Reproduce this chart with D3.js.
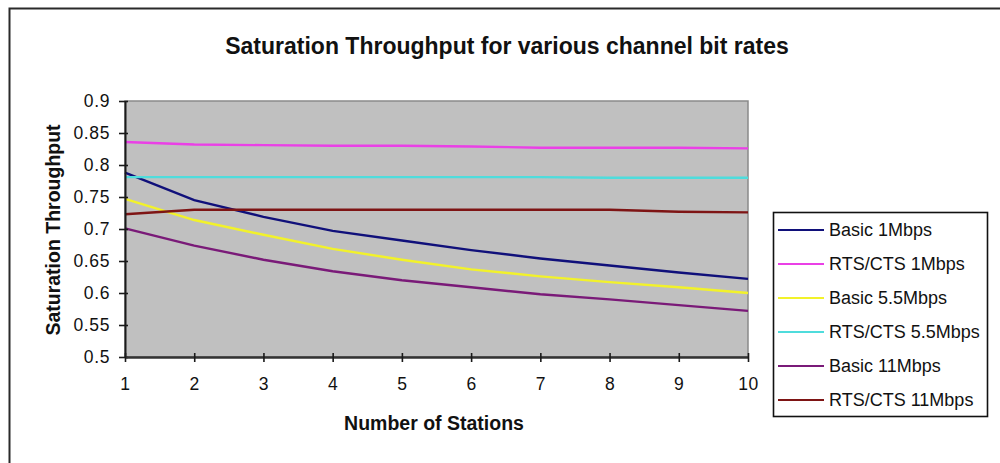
<!DOCTYPE html>
<html>
<head>
<meta charset="utf-8">
<script src="https://cdn.jsdelivr.net/npm/d3@7"></script>
<style>
  html, body { margin: 0; padding: 0; background: #ffffff; }
  svg { display: block; font-family: Arial, "Liberation Sans", sans-serif; }
</style>
</head>
<body>
<svg id="chart" width="1000" height="463"></svg>
<script>
// Number of stations on the x axis
const stations = [1, 2, 3, 4, 5, 6, 7, 8, 9, 10];
const yTicks = [0.5, 0.55, 0.6, 0.65, 0.7, 0.75, 0.8, 0.85, 0.9];

// Saturation throughput per access mode and channel bit rate
const basic1    = [0.788, 0.745, 0.719, 0.697, 0.682, 0.667, 0.654, 0.643, 0.632, 0.622];
const rtscts1   = [0.836, 0.832, 0.831, 0.830, 0.830, 0.829, 0.827, 0.827, 0.827, 0.826];
const basic55   = [0.747, 0.714, 0.691, 0.669, 0.652, 0.637, 0.626, 0.617, 0.609, 0.600];
const rtscts55  = [0.781, 0.781, 0.781, 0.781, 0.781, 0.781, 0.781, 0.780, 0.780, 0.780];
const basic11   = [0.701, 0.674, 0.652, 0.634, 0.620, 0.609, 0.598, 0.590, 0.581, 0.572];
const rtscts11  = [0.723, 0.730, 0.730, 0.730, 0.730, 0.730, 0.730, 0.730, 0.727, 0.726];

const seriesNames = ["Basic 1Mbps", "RTS/CTS 1Mbps", "Basic 5.5Mbps", "RTS/CTS 5.5Mbps", "Basic 11Mbps", "RTS/CTS 11Mbps"];
const seriesValues = [basic1, rtscts1, basic55, rtscts55, basic11, rtscts11];
const seriesColors = ["#10107a", "#ea40e6", "#f2f22a", "#4fdcdc", "#7a1a78", "#7e1414"];

const svg = d3.select("#chart");

// Outer chart frame
svg.append("path")
  .attr("d", "M9.5,470 V8.5 H1005")
  .attr("fill", "none")
  .attr("stroke", "#2a2a2a")
  .attr("stroke-width", 2);

const plot = { left: 125, right: 748, top: 101, bottom: 357 };

const x = d3.scaleLinear().domain([1, 10]).range([plot.left, plot.right]);
const y = d3.scaleLinear().domain([0.5, 0.9]).range([plot.bottom, plot.top]);

// Plot area
svg.append("rect")
  .attr("x", plot.left).attr("y", plot.top)
  .attr("width", plot.right - plot.left).attr("height", plot.bottom - plot.top)
  .attr("fill", "#c0c0c0")
  .attr("stroke", "#8a8a8a")
  .attr("stroke-width", 1.5);

// Series lines
const line = d3.line()
  .x((d, i) => x(stations[i]))
  .y(d => y(d));

seriesValues.forEach((vals, k) => {
  svg.append("path")
    .datum(vals)
    .attr("d", line)
    .attr("fill", "none")
    .attr("stroke", seriesColors[k])
    .attr("stroke-width", 2.4);
});

// Y axis
const yAxis = d3.axisLeft(y)
  .tickValues(yTicks)
  .tickFormat(d => String(+d.toFixed(2)))
  .tickSizeInner(6).tickSizeOuter(0).tickPadding(9);
const gy = svg.append("g").attr("transform", `translate(${plot.left},0)`).call(yAxis);
gy.select(".domain").attr("stroke", "#1a1a1a").attr("stroke-width", 2);
gy.selectAll(".tick line").attr("x2", -6).attr("x1", 3).attr("stroke", "#1a1a1a").attr("stroke-width", 1.6);
gy.selectAll(".tick text").attr("font-size", 17.5).attr("fill", "#111").attr("letter-spacing", 0.6);

// X axis
const xAxis = d3.axisBottom(x)
  .tickValues(stations)
  .tickFormat(d3.format("d"))
  .tickSizeInner(5).tickSizeOuter(0).tickPadding(16);
const gx = svg.append("g").attr("transform", `translate(0,${plot.bottom})`).call(xAxis);
gx.select(".domain").attr("stroke", "#333").attr("stroke-width", 2.4);
gx.selectAll(".tick line").attr("y1", -4).attr("y2", 5).attr("stroke", "#1a1a1a").attr("stroke-width", 1.6);
gx.selectAll(".tick text").attr("font-size", 17.5).attr("fill", "#111").attr("letter-spacing", 0.6);

// Titles
svg.append("text")
  .attr("x", 507).attr("y", 46)
  .attr("text-anchor", "middle").attr("dominant-baseline", "central")
  .attr("font-size", 23).attr("font-weight", "bold").attr("fill", "#111")
  .text("Saturation Throughput for various channel bit rates");

svg.append("text")
  .attr("x", 434).attr("y", 423)
  .attr("text-anchor", "middle").attr("dominant-baseline", "central")
  .attr("font-size", 19.5).attr("font-weight", "bold").attr("fill", "#111")
  .text("Number of Stations");

svg.append("text")
  .attr("transform", "translate(53,230) rotate(-90)")
  .attr("text-anchor", "middle").attr("dominant-baseline", "central")
  .attr("font-size", 19.5).attr("font-weight", "bold").attr("fill", "#111")
  .text("Saturation Throughput");

// Legend
const legend = { left: 773, top: 212, width: 214, height: 204, rowStart: 230, rowGap: 34 };
svg.append("rect")
  .attr("x", legend.left + 0.5).attr("y", legend.top + 0.5)
  .attr("width", legend.width).attr("height", legend.height)
  .attr("fill", "#ffffff").attr("stroke", "#111").attr("stroke-width", 1.6);

const rows = svg.append("g").selectAll("g")
  .data(seriesNames)
  .join("g")
  .attr("transform", (d, i) => `translate(0,${legend.rowStart + i * legend.rowGap})`);

rows.append("line")
  .attr("x1", 778).attr("x2", 824)
  .attr("stroke", (d, i) => seriesColors[i])
  .attr("stroke-width", 2);

rows.append("text")
  .attr("x", 829)
  .attr("dominant-baseline", "central")
  .attr("font-size", 18).attr("fill", "#111")
  .text(d => d);
</script>
</body>
</html>
